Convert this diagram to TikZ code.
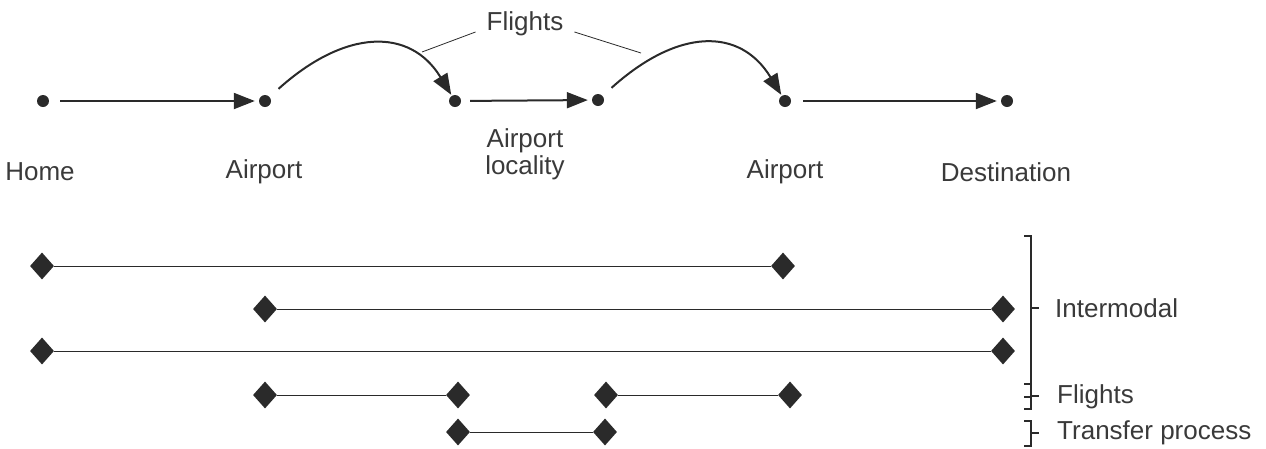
\documentclass[tikz,border=0pt]{standalone}
\usepackage{fontspec}
\setmainfont{Liberation Sans}
\usetikzlibrary{arrows.meta,shapes.geometric,calc}
\definecolor{ink}{HTML}{2A2A2A}
\definecolor{txt}{HTML}{3A3A3A}
\begin{document}
\begin{tikzpicture}[x=1pt,y=-1pt,
  every node/.style={text=txt},
  lbl/.style={font=\fontsize{26}{29}\selectfont, inner sep=0pt},
  dot/.style={circle, fill=ink, draw=none, minimum size=12pt, inner sep=0pt},
  travel/.style={draw=ink, line width=2pt, -{Triangle[length=21pt,width=16pt]}},
  hop/.style={travel, shorten <=12pt, shorten >=1pt},
  dia/.style={diamond, fill=ink, draw=none, minimum width=24pt, minimum height=27pt, inner sep=0pt},
  span/.style={draw=ink, line width=1pt},
  brk/.style={draw=ink, line width=1.2pt},
  thin/.style={draw=ink, line width=0.8pt}]
\useasboundingbox (0,0) rectangle (1266,448);

% top row dots
\node[dot] (h)  at (43,101) {};
\node[dot] (a1) at (265,101) {};
\node[dot] (al) at (455,101) {};
\node[dot] (a2) at (598,100) {};
\node[dot] (a3) at (785,101) {};
\node[dot] (d)  at (1007,101) {};

\draw[travel, shorten <=11pt, shorten >=4pt] (h) -- (a1);
\draw[travel, shorten <=9pt, shorten >=4pt] (al) -- (a2);
\draw[travel, shorten <=12pt, shorten >=4pt] (a3) -- (d);
\draw[hop] (a1) .. controls +(80,-72) and +(-45,-74) .. (al);
\draw[hop] (a2) .. controls +(80,-72) and +(-45,-74) .. (a3);

% labels
\node[lbl] (fl) at (525,24) {Flights};
\coordinate (fl1) at (422,52);
\coordinate (fl2) at (641,53);
\draw[thin] ($(fl.west)+(-11,8)$) -- (fl1);
\draw[thin] ($(fl.east)+(11,8)$) -- (fl2);

\node[lbl] (th) at (40,172) {Home};
\node[lbl] (ta1) at (264,172) {Airport};
\node[lbl, align=center] (tal) at (525,154) {Airport\\[-2pt]locality};
\node[lbl] (ta3) at (785,172) {Airport};
\node[lbl] (td) at (1006,172) {Destination};

% diamond rows
\node[dia] (r1a) at (42,266) {};
\node[dia] (r1b) at (783,266) {};
\node[dia] (r2a) at (265,309) {};
\node[dia] (r2b) at (1003,309) {};
\node[dia] (r3a) at (42,351) {};
\node[dia] (r3b) at (1003,351) {};
\node[dia] (r4a) at (265,395) {};
\node[dia] (r4b) at (458,395) {};
\node[dia] (r4c) at (606,395) {};
\node[dia] (r4d) at (790,395) {};
\node[dia] (r5a) at (458,432) {};
\node[dia] (r5b) at (605,432) {};

\draw[span] (r1a) -- (r1b);
\draw[span] (r2a) -- (r2b);
\draw[span] (r3a) -- (r3b);
\draw[span] (r4a) -- (r4b);
\draw[span] (r4c) -- (r4d);
\draw[span] (r5a) -- (r5b);

% brackets
\draw[brk] (1024,236) -- (1031,236) -- (1031,397) -- (1024,397);
\draw[brk] (1031,308) -- (1039,308);
\draw[brk] (1024,384) -- (1031,384) -- (1031,409) -- (1024,409);
\draw[brk] (1031,396) -- (1039,396);
\draw[brk] (1024,421) -- (1031,421) -- (1031,446) -- (1024,446);
\draw[brk] (1031,433) -- (1039,433);

\node[lbl, anchor=west] (ti) at (1055,308) {Intermodal};
\node[lbl, anchor=west] (tf) at (1057,397) {Flights};
\node[lbl, anchor=west] (tt) at (1057,433) {Transfer process};
\end{tikzpicture}
\end{document}
